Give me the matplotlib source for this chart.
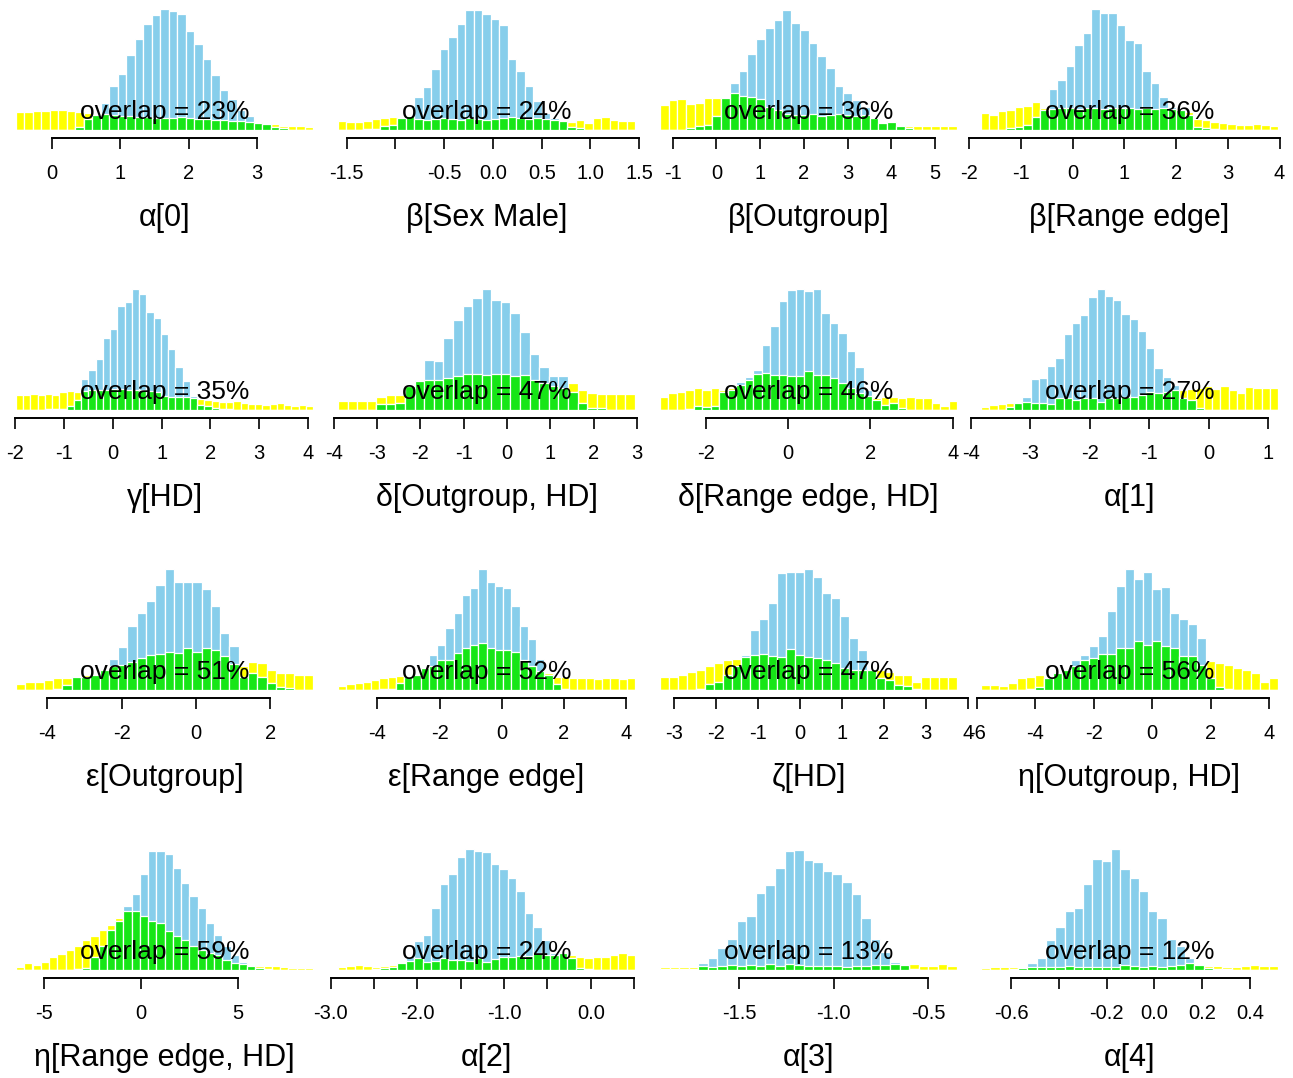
import numpy as np
import matplotlib
matplotlib.use("Agg")
import matplotlib.pyplot as plt

plt.rcParams['font.family'] = ['Liberation Sans', 'DejaVu Sans']

# ---------------- data ----------------
titles = ["α[0]", "β[Sex Male]", "β[Outgroup]", "β[Range edge]",
          "γ[HD]", "δ[Outgroup, HD]", "δ[Range edge, HD]", "α[1]",
          "ε[Outgroup]", "ε[Range edge]", "ζ[HD]", "η[Outgroup, HD]",
          "η[Range edge, HD]", "α[2]", "α[3]", "α[4]"]

overlap_pct = [23, 24, 36, 36, 35, 47, 46, 27, 51, 52, 47, 56, 59, 24, 13, 12]

bin_lo = [-0.533, -1.589, -1.292, -1.77, -1.98, -3.90, -3.11, -3.83,
          -4.84, -5.27, -3.34, -5.86, -6.45, -2.914, -1.919, -0.727]
bin_hi = [3.827, 1.457, 5.5, 3.97, 4.10, 2.95, 4.10, 1.17,
          3.15, 4.29, 3.74, 4.31, 8.85, 0.51, -0.346, 0.518]

tick_values = [
    [0, 1, 2, 3],
    [-1.5, -1.0, -0.5, 0.0, 0.5, 1.0, 1.5],
    [-1, 0, 1, 2, 3, 4, 5],
    [-2, -1, 0, 1, 2, 3, 4],
    [-2, -1, 0, 1, 2, 3, 4],
    [-4, -3, -2, -1, 0, 1, 2, 3],
    [-2, 0, 2, 4],
    [-4, -3, -2, -1, 0, 1],
    [-4, -2, 0, 2],
    [-4, -2, 0, 2, 4],
    [-3, -2, -1, 0, 1, 2, 3, 4],
    [-6, -4, -2, 0, 2, 4],
    [-5, 0, 5],
    [-3.0, -2.5, -2.0, -1.5, -1.0, -0.5, 0.0, 0.5],
    [-1.5, -1.0, -0.5],
    [-0.6, -0.4, -0.2, 0.0, 0.2, 0.4],
]
tick_labels = [
    ["0", "1", "2", "3"],
    ["-1.5", "", "-0.5", "0.0", "0.5", "1.0", "1.5"],
    ["-1", "0", "1", "2", "3", "4", "5"],
    ["-2", "-1", "0", "1", "2", "3", "4"],
    ["-2", "-1", "0", "1", "2", "3", "4"],
    ["-4", "-3", "-2", "-1", "0", "1", "2", "3"],
    ["-2", "0", "2", "4"],
    ["-4", "-3", "-2", "-1", "0", "1"],
    ["-4", "-2", "0", "2"],
    ["-4", "-2", "0", "2", "4"],
    ["-3", "-2", "-1", "0", "1", "2", "3", "4"],
    ["-6", "-4", "-2", "0", "2", "4"],
    ["-5", "0", "5"],
    ["-3.0", "", "-2.0", "", "-1.0", "", "0.0", ""],
    ["-1.5", "-1.0", "-0.5"],
    ["-0.6", "", "-0.2", "0.0", "0.2", "0.4"],
]

prior_01 = [18, 18, 19, 19, 20, 20, 19, 18, 17, 16, 16, 15, 14, 14, 13, 13, 12,
            12, 12, 13, 12, 11, 11, 10, 10, 9, 9, 8, 7, 6, 6, 4, 4, 4, 3]
post_01 = [0, 0, 0, 0, 0, 0, 0, 3, 11, 15, 27, 44, 56, 75, 91, 106, 115, 121, 119,
           116, 99, 86, 71, 55, 40, 31, 20, 14, 8, 6, 3, 2, 0, 0, 0]

prior_02 = [9, 8, 8, 9, 11, 12, 13, 13, 14, 11, 10, 11, 12, 11, 10, 12, 11, 10, 11,
            12, 13, 12, 11, 12, 11, 10, 9, 8, 10, 7, 12, 13, 10, 9, 9]
post_02 = [0, 0, 0, 1, 1, 4, 5, 12, 14, 33, 43, 61, 81, 93, 106, 120, 120, 116, 111,
           105, 71, 59, 44, 29, 17, 12, 10, 3, 2, 0, 0, 0, 0, 0, 0]

prior_03 = [25, 30, 31, 26, 27, 32, 32, 33, 37, 34, 33, 31, 23, 20, 16, 15, 15, 16,
            14, 15, 16, 15, 14, 15, 12, 8, 9, 5, 4, 4, 4, 4, 4, 4]
post_03 = [0, 0, 0, 2, 4, 5, 14, 32, 47, 59, 76, 91, 102, 110, 120, 107, 100, 87,
           74, 62, 44, 37, 30, 23, 13, 7, 8, 4, 2, 0, 0, 0, 0, 0]

prior_04 = [17, 15, 19, 20, 23, 24, 28, 22, 21, 22, 22, 21, 22, 22, 21, 22, 22, 22,
            21, 22, 21, 22, 21, 20, 18, 11, 10, 8, 7, 6, 5, 5, 6, 5, 4]
post_04 = [0, 0, 0, 2, 3, 5, 13, 20, 41, 50, 64, 85, 97, 121, 117, 117, 105, 90, 87,
           59, 47, 33, 23, 20, 15, 3, 2, 1, 0, 0, 0, 0, 0, 0, 0]

prior_05 = [15, 15, 16, 15, 16, 15, 18, 19, 18, 19, 20, 20, 20, 21, 21, 20, 20, 20,
            19, 18, 14, 13, 13, 13, 12, 11, 10, 9, 8, 8, 9, 7, 6, 6, 5, 6, 7, 5, 4, 5, 4]
post_05 = [0, 0, 0, 0, 1, 1, 1, 4, 10, 31, 40, 51, 72, 81, 104, 108, 121, 116, 98,
           92, 76, 61, 43, 29, 14, 5, 4, 2, 1, 1, 0, 0, 0, 0, 0, 0, 0, 0, 0, 0, 0]

prior_06 = [9, 9, 9, 9, 13, 15, 15, 25, 30, 30, 30, 32, 34, 36, 36, 35, 36, 36, 34,
            35, 30, 27, 24, 22, 27, 20, 17, 16, 16, 16, 16]
post_06 = [0, 0, 0, 0, 6, 6, 7, 24, 29, 50, 49, 72, 90, 104, 112, 121, 110, 108, 97,
           78, 56, 43, 34, 34, 18, 7, 2, 2, 0, 0, 0]

prior_07 = [13, 17, 18, 20, 22, 20, 22, 20, 22, 25, 30, 36, 37, 35, 35, 34, 34, 39,
            35, 35, 32, 27, 22, 17, 14, 12, 13, 13, 12, 13, 12, 12, 7, 4, 9]
post_07 = [0, 0, 0, 1, 4, 3, 4, 18, 20, 28, 33, 40, 65, 84, 109, 120, 121, 119, 121,
           97, 87, 77, 59, 43, 20, 10, 5, 7, 2, 0, 0, 0, 0, 0, 0]

prior_08 = [3, 5, 6, 7, 7, 8, 7, 7, 6, 12, 12, 10, 12, 12, 8, 12, 12, 13, 13, 15, 18,
            17, 18, 20, 20, 21, 22, 24, 21, 24, 20, 17, 23, 22, 22, 22]
post_08 = [0, 0, 0, 3, 7, 13, 31, 32, 44, 52, 76, 87, 95, 113, 121, 114, 110, 96, 91,
           79, 62, 42, 33, 25, 12, 10, 2, 0, 0, 0, 0, 0, 0, 0, 0, 0]

prior_09 = [6, 8, 8, 10, 12, 12, 14, 15, 16, 21, 24, 25, 28, 32, 35, 36, 38, 37, 42,
            38, 42, 40, 34, 26, 24, 28, 27, 20, 17, 17, 15, 15]
post_09 = [0, 0, 0, 0, 1, 5, 13, 13, 15, 20, 31, 43, 64, 77, 89, 105, 121, 108, 108,
           108, 101, 84, 57, 44, 13, 17, 13, 7, 3, 2, 0, 0]

prior_10 = [4, 6, 7, 8, 10, 12, 13, 14, 13, 15, 22, 24, 30, 30, 37, 42, 45, 47, 42,
            40, 40, 38, 30, 24, 19, 17, 13, 13, 12, 12, 12, 11, 12, 12, 11, 12]
post_10 = [0, 0, 0, 0, 0, 1, 1, 7, 13, 15, 22, 35, 45, 62, 77, 95, 102, 121, 108,
           104, 102, 84, 64, 51, 31, 15, 6, 1, 0, 0, 0, 0, 0, 0, 0, 0]

prior_11 = [13, 13, 15, 18, 20, 24, 27, 30, 31, 33, 35, 36, 34, 33, 41, 35, 33, 32,
            30, 27, 22, 20, 20, 20, 20, 18, 15, 15, 8, 13, 13, 13, 13]
post_11 = [0, 0, 0, 0, 1, 6, 8, 15, 24, 35, 60, 71, 87, 117, 118, 118, 121, 113, 97,
           92, 74, 52, 40, 20, 12, 10, 5, 4, 1, 0, 0, 0, 0]

prior_12 = [5, 5, 4, 7, 12, 13, 15, 13, 17, 20, 24, 30, 32, 36, 36, 42, 42, 49, 45,
            49, 44, 42, 34, 34, 25, 29, 27, 25, 22, 20, 17, 8, 12]
post_12 = [0, 0, 0, 0, 0, 1, 3, 12, 17, 20, 30, 35, 44, 54, 79, 104, 121, 111, 118,
           101, 103, 77, 71, 66, 52, 12, 3, 1, 0, 0, 0, 0, 0]

prior_13 = [3, 7, 5, 8, 13, 16, 20, 24, 30, 34, 40, 45, 52, 59, 59, 54, 49, 47, 39,
            34, 30, 24, 20, 17, 15, 10, 7, 6, 5, 4, 4, 4, 3, 2, 2, 2]
post_13 = [0, 0, 0, 0, 0, 0, 0, 1, 2, 13, 24, 40, 49, 64, 76, 96, 119, 119, 116, 102,
           87, 74, 62, 47, 35, 24, 15, 8, 4, 2, 1, 0, 0, 0, 0, 0]

prior_14 = [3, 4, 5, 4, 3, 4, 5, 7, 9, 12, 8, 9, 12, 10, 10, 9, 12, 8, 11, 13, 13, 14,
            14, 17, 15, 15, 17, 15, 13, 12, 13, 13, 15, 17, 15]
post_14 = [0, 0, 0, 0, 1, 2, 3, 7, 13, 29, 35, 62, 86, 96, 113, 121, 119, 118, 106,
           101, 92, 79, 57, 43, 30, 17, 17, 12, 2, 1, 0, 0, 0, 0, 0]

prior_15 = [3, 3, 3, 3, 4, 3, 4, 5, 4, 5, 4, 6, 4, 6, 5, 4, 4, 4, 4, 3, 4, 4, 5, 5, 6,
            5, 6, 4, 4, 6, 4]
post_15 = [1, 1, 1, 1, 7, 12, 22, 31, 49, 54, 77, 85, 102, 119, 120, 110, 108, 99, 96,
           88, 76, 52, 31, 18, 8, 6, 1, 0, 0, 0, 0]

prior_16 = [2, 3, 3, 3, 3, 3, 3, 3, 3, 4, 3, 3, 3, 3, 3, 5, 4, 3, 4, 3, 4, 5, 7, 5, 4,
            4, 3, 3, 4, 5, 4, 4]
post_16 = [0, 0, 0, 1, 2, 7, 12, 30, 43, 59, 62, 86, 111, 109, 121, 101, 92, 79, 59,
           52, 31, 24, 12, 6, 2, 1, 1, 0, 0, 0, 0, 0]

priors = [prior_01, prior_02, prior_03, prior_04, prior_05, prior_06, prior_07, prior_08,
          prior_09, prior_10, prior_11, prior_12, prior_13, prior_14, prior_15, prior_16]
posts = [post_01, post_02, post_03, post_04, post_05, post_06, post_07, post_08,
         post_09, post_10, post_11, post_12, post_13, post_14, post_15, post_16]

# ---------------- layout / style ----------------
W, H = 1293, 1078
DPI = 100
col_left = [16, 338, 660, 981]
panel_w = 297
base_y = [130, 410, 690, 970]
panel_h = 122
title_offset = 88
PX = 72.0 / DPI  # points per pixel

c_prior = "#FFFF00"
c_post = "#87CEEB"
c_over = "#16E616"

fig = plt.figure(figsize=(W / DPI, H / DPI), dpi=DPI)

for k in range(16):
    r, c = divmod(k, 4)
    lo, hi = bin_lo[k], bin_hi[k]
    prior = np.array(priors[k], dtype=float)
    post = np.array(posts[k], dtype=float)
    n = len(prior)
    edges = np.linspace(lo, hi, n + 1)
    bw = (hi - lo) / n
    ppu = panel_w / (hi - lo)
    tv = tick_values[k]
    x0 = min(lo, tv[0])
    x1 = max(hi, tv[-1])
    left_px = col_left[c] + (x0 - lo) * ppu
    width_px = (x1 - x0) * ppu
    ax = fig.add_axes([left_px / W, 1 - base_y[r] / H, width_px / W, panel_h / H])
    ax.patch.set_visible(False)
    ax.set_xlim(x0, x1)
    ax.set_ylim(0, panel_h)

    kw = dict(width=bw, align='edge', edgecolor='white', linewidth=0.9)
    ax.bar(edges[:-1], prior, color=c_prior, **kw)
    ax.bar(edges[:-1], post, color=c_post, **kw)
    ax.bar(edges[:-1], np.minimum(prior, post), color=c_over, **kw)

    for s in ['top', 'left', 'right']:
        ax.spines[s].set_visible(False)
    ax.spines['bottom'].set_position(('outward', 8 * PX))
    ax.spines['bottom'].set_bounds(tv[0], tv[-1])
    ax.spines['bottom'].set_linewidth(1.4)
    ax.set_yticks([])
    ax.set_xticks(tv)
    ax.set_xticklabels(tick_labels[k], fontsize=14.5)
    ax.tick_params(axis='x', direction='out', length=11 * PX, width=1.2, pad=10.5)

    ax.text((lo + hi) / 2, 11, f"overlap = {overlap_pct[k]}%", ha='center',
            va='baseline', fontsize=19, color='black')

    cx = col_left[c] + panel_w / 2
    fig.text(cx / W, 1 - (base_y[r] + title_offset) / H, titles[k], ha='center',
             va='center', fontsize=22)

fig.savefig("out.png", dpi=DPI)
